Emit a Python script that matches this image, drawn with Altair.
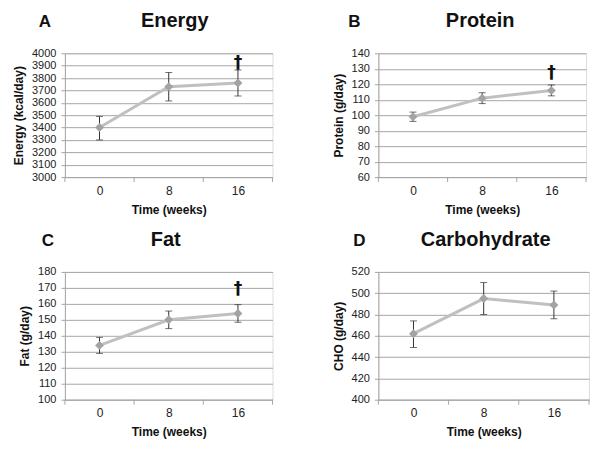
import altair as alt
import pandas as pd

weeks = [0, 8, 16]
boundaries = [-4, 4, 12, 20]

panels = [
    dict(letter="A", title="Energy", ytitle="Energy (kcal/day)",
         mean=[3400, 3730, 3760], lo=[3300, 3615, 3655], hi=[3490, 3845, 3865],
         dom=[3000, 4000], step=100, dagger=3925, w=208, h=124, ldx=-20, tdx=6),
    dict(letter="B", title="Protein", ytitle="Protein (g/day)",
         mean=[99, 111, 116], lo=[96, 107.5, 112.5], hi=[102, 114.5, 119.5],
         dom=[60, 140], step=10, dagger=127, w=208, h=124, ldx=-24, tdx=-2),
    dict(letter="C", title="Fat", ytitle="Fat (g/day)",
         mean=[134, 150, 154], lo=[129, 144.5, 148.5], hi=[139, 155.5, 159.5],
         dom=[100, 180], step=10, dagger=169, w=208, h=128, ldx=-17, tdx=-3),
    dict(letter="D", title="Carbohydrate", ytitle="CHO (g/day)",
         mean=[462, 495, 489], lo=[449, 480, 476], hi=[474, 510, 502],
         dom=[400, 520], step=20, dagger=None, w=211, h=128, ldx=-19, tdx=2),
]

FONT = "Liberation Sans"
GRID = "#a6a6a6"
LINE = "#c0c0c0"
MARK = "#a3a3a3"
ERR = "#333333"
TXT = "#111111"


def panel(p):
    df = pd.DataFrame({"week": weeks, "mean": p["mean"], "lo": p["lo"], "hi": p["hi"]})
    w, h = p["w"], p["h"]
    ticks = list(range(p["dom"][0], p["dom"][1] + 1, p["step"]))
    xs = alt.Scale(domain=[-4, 20], nice=False, zero=False)
    ys = alt.Scale(domain=p["dom"], nice=False, zero=False)
    xax = alt.Axis(
        values=weeks, title="Time (weeks)", grid=False, ticks=False, format="d",
        domainColor=GRID, labelFontSize=12, labelFont=FONT, labelColor="#222",
        labelPadding=8, titleFont=FONT, titleFontSize=12, titleFontWeight="bold",
        titleColor=TXT, titlePadding=8, labelFlush=False)
    yax = alt.Axis(
        values=ticks, title=p["ytitle"], grid=True, gridColor=GRID, ticks=True,
        tickColor=GRID, tickSize=4, format="d",
        domainColor=GRID, labelFontSize=11, labelFont=FONT, labelColor="#222",
        labelPadding=5, titleFont=FONT, titleFontSize=12, titleFontWeight="bold",
        titleColor=TXT, titlePadding=6, labelFlush=False, labelOverlap=False)

    def X(f):
        return alt.X(f, scale=xs, axis=xax, title="Time (weeks)")

    def Y(f):
        return alt.Y(f, scale=ys, axis=yax, title=p["ytitle"])

    base = alt.Chart(df)
    line = base.mark_line(color=LINE, strokeWidth=3).encode(x=X("week:Q"), y=Y("mean:Q"))
    pts = base.mark_point(shape="diamond", filled=True, color=MARK, size=80, opacity=1).encode(
        x=X("week:Q"), y=Y("mean:Q"))
    err = base.mark_rule(color=ERR, strokeWidth=1).encode(
        x=X("week:Q"), y=Y("lo:Q"), y2="hi:Q")
    caplo = base.mark_tick(color=ERR, orient="horizontal", size=7, thickness=1).encode(
        x=X("week:Q"), y=Y("lo:Q"))
    caphi = base.mark_tick(color=ERR, orient="horizontal", size=7, thickness=1).encode(
        x=X("week:Q"), y=Y("hi:Q"))
    tdf = pd.DataFrame({"week": boundaries})
    xt = alt.Chart(tdf).mark_rule(color=GRID).encode(
        x=X("week:Q"), y=alt.value(h), y2=alt.value(h + 5))
    letter = alt.Chart(pd.DataFrame({"t": [p["letter"]]})).mark_text(
        font=FONT, fontSize=17, fontWeight="bold", color=TXT, align="center", baseline="middle"
    ).encode(text="t:N", x=alt.value(p["ldx"]), y=alt.value(-31))
    layers = [line, xt, err, caplo, caphi, pts, letter]
    if p["dagger"] is not None:
        ddf = pd.DataFrame({"week": [16], "mean": [p["dagger"]], "t": ["\u2020"]})
        dag = alt.Chart(ddf).mark_text(font="DejaVu Sans", fontSize=17, fontWeight="bold",
                                       color=TXT, baseline="middle").encode(
            x=X("week:Q"), y=Y("mean:Q"), text="t:N")
        layers.append(dag)
    return alt.layer(*layers).properties(
        width=w, height=h,
        title=alt.TitleParams(p["title"], font=FONT, fontSize=20, fontWeight="bold",
                              color=TXT, frame="group", anchor="middle", offset=-18, dx=p["tdx"]))


chart = alt.concat(*[panel(p) for p in panels], columns=2,
                   spacing=alt.RowColnumber(row=13, column=58)).properties(
    padding={"left": 4, "top": 2, "right": 2, "bottom": 0}
).configure_view(strokeWidth=0).configure(background="white")

chart.save("out.html", embed_options={"renderer": "svg", "actions": False})
